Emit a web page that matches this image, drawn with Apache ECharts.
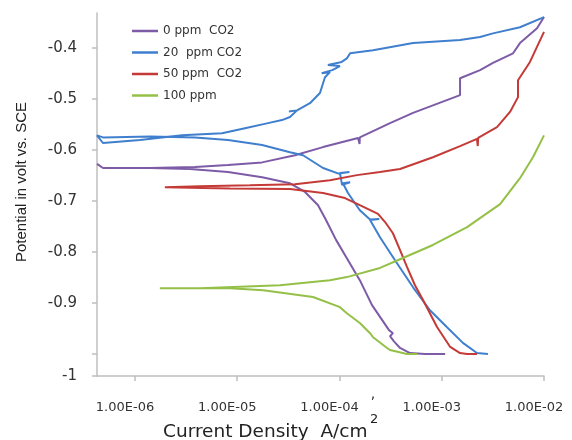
<!DOCTYPE html>
<html><head><meta charset="utf-8">
<script src="https://cdn.jsdelivr.net/npm/echarts@6/dist/echarts.min.js"></script>
<style>html,body{margin:0;padding:0;background:#fff}#c{width:572px;height:440px}</style>
</head><body><div id="c"></div>
<script>
const seriesNames = ['0 ppm  CO2', '20  ppm CO2', '50 ppm  CO2', '100 ppm'];
const seriesColors = ['#7d5ba6', '#3f7fce', '#c43a36', '#94c047'];

// 0 ppm CO2 : current density (A/cm2) and potential (V vs SCE), cathodic end -> Ecorr -> anodic end
const i0 = [1.08e-3, 6.86e-4, 4.89e-4, 3.91e-4, 3.41e-4, 3.12e-4, 3.33e-4, 3.05e-4, 2.49e-4, 2.08e-4, 1.58e-4, 1.18e-4, 9.25e-5, 7.38e-5, 6.17e-5, 4.60e-5, 3.28e-5, 1.75e-5, 8.13e-6, 3.45e-6, 1.40e-6, 4.86e-7, 4.25e-7,
            4.86e-7, 1.40e-6, 3.86e-6, 8.13e-6, 1.75e-5, 3.67e-5, 6.90e-5, 1.52e-4, 1.57e-4, 1.58e-4, 3.12e-4, 5.24e-4, 1.51e-3, 1.51e-3, 2.37e-3, 3.17e-3, 4.98e-3, 5.82e-3, 8.55e-3, 1.00e-2];
const e0 = [-1.000, -1.000, -0.998, -0.988, -0.975, -0.965, -0.959, -0.953, -0.927, -0.904, -0.855, -0.812, -0.776, -0.737, -0.708, -0.682, -0.665, -0.653, -0.643, -0.637, -0.635, -0.635, -0.627,
            -0.635, -0.635, -0.633, -0.629, -0.624, -0.610, -0.594, -0.576, -0.588, -0.575, -0.547, -0.527, -0.492, -0.459, -0.443, -0.429, -0.410, -0.390, -0.361, -0.339];

// 20 ppm CO2
const i20 = [2.83e-3, 2.21e-3, 1.61e-3, 1.12e-3, 7.67e-4, 5.24e-4, 3.49e-4, 2.49e-4, 1.99e-4, 2.45e-4, 1.99e-4, 1.58e-4, 1.21e-4, 1.08e-4, 1.27e-4, 1.06e-4, 1.01e-4, 1.25e-4, 9.8e-5, 6.90e-5, 4.40e-5, 3.28e-5, 1.75e-5, 8.13e-6, 3.86e-6, 1.40e-6, 4.86e-7, 4.25e-7,
             4.86e-7, 1.12e-6, 2.88e-6, 7.10e-6, 1.19e-5, 2.00e-5, 2.74e-5, 3.28e-5, 3.84e-5, 3.20e-5, 3.84e-5, 5.14e-5, 6.44e-5, 7.21e-5, 8.07e-5, 6.70e-5, 8.50e-5, 1.01e-4, 7.70e-5, 1.05e-4, 1.18e-4, 1.27e-4, 2.13e-4, 5.24e-4, 1.51e-3, 2.37e-3, 3.17e-3, 5.82e-3, 1.00e-2];
const e20 = [-1.000, -0.998, -0.978, -0.947, -0.914, -0.869, -0.816, -0.771, -0.737, -0.735, -0.736, -0.718, -0.684, -0.665, -0.663, -0.668, -0.645, -0.643, -0.646, -0.635, -0.610, -0.604, -0.590, -0.580, -0.575, -0.573, -0.575, -0.571,
             -0.586, -0.580, -0.571, -0.567, -0.557, -0.547, -0.541, -0.535, -0.522, -0.524, -0.522, -0.508, -0.488, -0.457, -0.447, -0.449, -0.443, -0.435, -0.433, -0.427, -0.420, -0.410, -0.404, -0.390, -0.384, -0.378, -0.371, -0.359, -0.339];

// 50 ppm CO2
const i50 = [2.21e-3, 1.77e-3, 1.51e-3, 1.21e-3, 8.99e-4, 6.56e-4, 5.47e-4, 4.57e-4, 3.91e-4, 3.33e-4, 2.79e-4, 2.38e-4, 1.58e-4, 1.13e-4, 6.90e-5, 3.28e-5, 8.49e-6, 1.96e-6,
             4.33e-6, 1.33e-5, 3.67e-5, 8.07e-5, 1.48e-4, 2.49e-4, 3.91e-4, 8.20e-4, 1.51e-3, 2.21e-3, 2.25e-3, 2.27e-3, 3.47e-3, 4.65e-3, 5.57e-3, 5.57e-3, 7.29e-3, 1.00e-2];
const e50 = [-1.000, -1.000, -0.998, -0.986, -0.947, -0.894, -0.865, -0.829, -0.796, -0.763, -0.741, -0.725, -0.708, -0.694, -0.684, -0.676, -0.675, -0.673,
             -0.671, -0.669, -0.667, -0.659, -0.649, -0.643, -0.637, -0.614, -0.592, -0.578, -0.592, -0.576, -0.555, -0.525, -0.496, -0.463, -0.427, -0.368];

// 100 ppm
const i100 = [5.73e-4, 4.57e-4, 3.12e-4, 2.92e-4, 2.13e-4, 1.99e-4, 1.58e-4, 1.18e-4, 1.01e-4, 5.51e-5, 1.79e-5, 8.49e-6, 1.75e-6,
              4.33e-6, 2.62e-5, 8.07e-5, 1.18e-4, 2.49e-4, 3.91e-4, 8.20e-4, 1.77e-3, 3.72e-3, 5.82e-3, 7.80e-3, 1.00e-2];
const e100 = [-1.000, -1.000, -0.992, -0.988, -0.967, -0.959, -0.939, -0.920, -0.908, -0.888, -0.875, -0.871, -0.871,
              -0.871, -0.865, -0.855, -0.849, -0.831, -0.814, -0.786, -0.751, -0.706, -0.655, -0.614, -0.571];

const xMin = 4.25e-7, xMax = 1e-2;
const yMin = -1.043, yMax = -0.331;
const yTickValues = [-1.043, -1.0, -0.9, -0.8, -0.7, -0.6, -0.5, -0.4];
const yLabelValues = [-1.043, -0.9, -0.8, -0.7, -0.6, -0.5, -0.4];
const yLabelTexts = ['-1', '-0.9', '-0.8', '-0.7', '-0.6', '-0.5', '-0.4'];
const xTitle = 'Current Density  A/cm';
const xTitleSup = '2';
const yTitle = 'Potential in volt vs. SCE';

function zip(xs, ys) { return xs.map((x, k) => [x, ys[k]]); }
function sci(v) {
  const ex = Math.round(Math.log10(v));
  const m = v / Math.pow(10, ex);
  return m.toFixed(2) + 'E' + (ex < 0 ? '-' : '+') + String(Math.abs(ex)).padStart(2, '0');
}

const curves = [zip(i0, e0), zip(i20, e20), zip(i50, e50), zip(i100, e100)];
const axisColor = '#bfbfbf';
const chart = echarts.init(document.getElementById('c'), null, { renderer: 'canvas' });
chart.setOption({
  animation: false,
  backgroundColor: '#ffffff',
  grid: { left: 97, right: 28, top: 13, bottom: 64, containLabel: false },
  legend: {
    orient: 'vertical', left: 132, top: 25, itemWidth: 26, itemHeight: 2.5, itemGap: 9.5, padding: 0,
    icon: 'rect',
    textStyle: { fontFamily: 'DejaVu Sans', fontSize: 12, color: '#333' },
    data: seriesNames
  },
  xAxis: {
    type: 'log', min: xMin, max: xMax, logBase: 10,
    axisLine: { lineStyle: { color: axisColor, width: 1.5 } },
    axisTick: { show: true, length: 5, lineStyle: { color: axisColor, width: 1.5 } },
    splitLine: { show: false },
    axisLabel: {
      showMinLabel: false, margin: 25, padding: [0, 20, 0, 0],
      fontFamily: 'DejaVu Sans', fontSize: 13, color: '#333',
      formatter: v => sci(v)
    }
  },
  yAxis: {
    type: 'value', min: yMin, max: yMax,
    axisLine: { show: true, lineStyle: { color: axisColor, width: 1.5 } },
    axisTick: { show: true, length: 5, customValues: yTickValues, lineStyle: { color: axisColor, width: 1.5 } },
    splitLine: { show: false },
    axisLabel: {
      margin: 20, customValues: yLabelValues,
      fontFamily: 'DejaVu Sans', fontSize: 15, color: '#333',
      formatter: v => { const k = yLabelValues.findIndex(t => Math.abs(t - v) < 1e-6); return k >= 0 ? yLabelTexts[k] : ''; }
    }
  },
  series: curves.map((d, k) => ({
    name: seriesNames[k], type: 'line', data: d, symbol: 'none', showSymbol: false,
    lineStyle: { color: seriesColors[k], width: 2 }, itemStyle: { color: seriesColors[k] }
  })),
  graphic: [
    { type: 'text', x: 22, y: 182, rotation: Math.PI / 2,
      style: { text: yTitle, align: 'center', verticalAlign: 'middle', fontFamily: 'Liberation Sans', fontSize: 15, fill: '#222' } },
    { type: 'text', x: 163, y: 432,
      style: { text: xTitle, align: 'left', verticalAlign: 'middle', fontFamily: 'DejaVu Sans', fontSize: 18.5, fill: '#222' } },
    { type: 'text', x: 370, y: 420,
      style: { text: xTitleSup, align: 'left', verticalAlign: 'middle', fontFamily: 'DejaVu Sans', fontSize: 13, fill: '#222' } },
    { type: 'text', x: 373, y: 394,
      style: { text: ',', align: 'center', verticalAlign: 'middle', fontFamily: 'DejaVu Sans', fontSize: 14, fill: '#333' } }
  ]
});
</script>
</body></html>
